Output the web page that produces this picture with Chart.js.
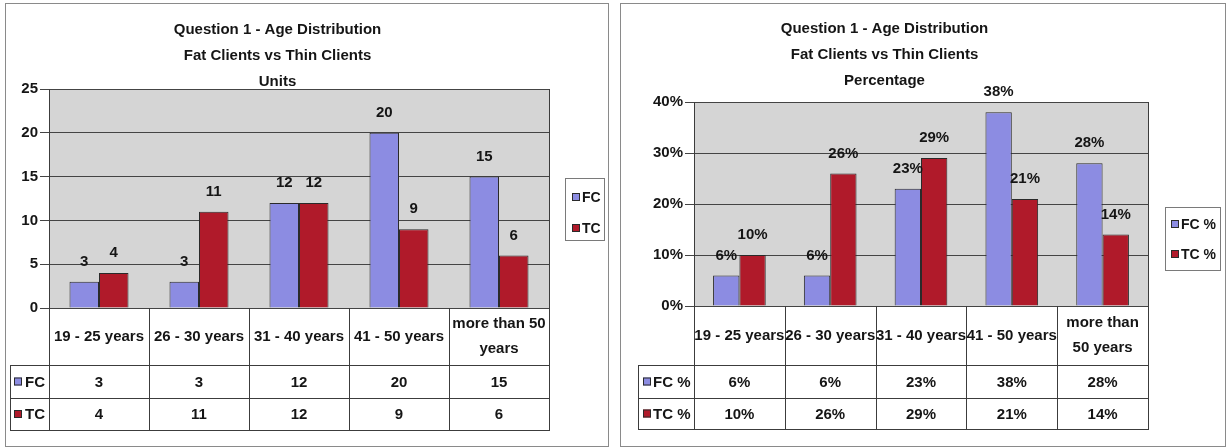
<!DOCTYPE html>
<html>
<head>
<meta charset="utf-8">
<script src="https://cdn.jsdelivr.net/npm/chart.js@4.4.1/dist/chart.umd.min.js"></script>
<style>
  html, body { margin: 0; padding: 0; background: #fff; width: 1228px; height: 448px; overflow: hidden; }
  .panel { position: absolute; box-sizing: border-box; border: 1px solid #8a8a8a; background: #fff; }
  .panel canvas { display: block; }
</style>
</head>
<body>
<div class="panel" style="left:5px;top:3px;width:604px;height:444px"><canvas id="units" width="602" height="442"></canvas></div>
<div class="panel" style="left:620px;top:3px;width:606px;height:444px"><canvas id="pct" width="604" height="442"></canvas></div>
<script>
// ---- data ----
const ageGroups = ['19 - 25 years', '26 - 30 years', '31 - 40 years', '41 - 50 years', 'more than 50 years'];
const unitHeaderLines = [['19 - 25 years'], ['26 - 30 years'], ['31 - 40 years'], ['41 - 50 years'], ['more than 50', 'years']];
const pctHeaderLines = [['19 - 25 years'], ['26 - 30 years'], ['31 - 40 years'], ['41 - 50 years'], ['more than', '50 years']];

const fcUnits = [3, 3, 12, 20, 15];
const tcUnits = [4, 11, 12, 9, 6];
const fcPercent = [6, 6, 23, 38, 28];
const tcPercent = [10, 26, 29, 21, 14];

const unitTicks = [0, 5, 10, 15, 20, 25];
const percentTicks = [0, 10, 20, 30, 40];

const unitTitle = ['Question 1 - Age Distribution', 'Fat Clients vs Thin Clients', 'Units'];
const pctTitle = ['Question 1 - Age Distribution', 'Fat Clients vs Thin Clients', 'Percentage'];

// ---- styling ----
const FONT = "'Liberation Sans', Arial, sans-serif";
const TXT = 15;
const INK = '#151515';
const FC_COLOR = '#8c8ce2';
const TC_COLOR = '#b01a2a';
const EDGE = '#2a2a2a';
const RULE = '#3c3c3c';
const PLOT_BG = '#d5d5d5';

Chart.defaults.font.family = FONT;
Chart.defaults.font.weight = 'bold';
Chart.defaults.font.size = TXT;
Chart.defaults.color = INK;

function px(v) { return Math.round(v) + 0.5; }

function line(ctx, x1, y1, x2, y2) {
  ctx.beginPath(); ctx.moveTo(x1, y1); ctx.lineTo(x2, y2); ctx.stroke();
}

function swatch(ctx, x, y, color) {
  ctx.fillStyle = color;
  ctx.fillRect(x, y - 4, 8, 8);
  ctx.strokeStyle = EDGE;
  ctx.lineWidth = 1;
  ctx.strokeRect(x + 0.5, y - 3.5, 7, 7);
}

// Excel-style frame: grey plot fill, right edge, value labels, legend box and data table
function makePanelPlugin(cfg) {
  return {
    id: 'panel',
    afterLayout(chart) {
      if (cfg.titleShift) {
        chart.titleBlock.top += cfg.titleShift;
        chart.titleBlock.bottom += cfg.titleShift;
      }
    },
    beforeDraw(chart) {
      const { ctx, chartArea: a } = chart;
      ctx.save();
      ctx.fillStyle = PLOT_BG;
      ctx.fillRect(a.left, a.top, a.right - a.left, a.bottom - a.top);
      ctx.restore();
    },
    beforeDatasetsDraw(chart) {
      const { ctx, chartArea: a } = chart;
      ctx.save();
      ctx.strokeStyle = RULE;
      ctx.lineWidth = 1;
      line(ctx, px(a.right), a.top, px(a.right), a.bottom);
      ctx.restore();
    },
    afterDatasetsDraw(chart) {
      const { ctx } = chart;
      ctx.save();
      ctx.font = `bold ${TXT}px ${FONT}`;
      ctx.fillStyle = INK;
      ctx.textAlign = 'center';
      ctx.textBaseline = 'middle';
      chart.data.datasets.forEach((ds, di) => {
        chart.getDatasetMeta(di).data.forEach((bar, i) => {
          ctx.fillText(ds.data[i] + cfg.suffix, bar.x, bar.y - 20);
        });
      });
      ctx.restore();
    },
    afterDraw(chart) {
      const { ctx, chartArea: a, scales: { x } } = chart;
      const n = chart.data.labels.length;
      const colW = (a.right - a.left) / n;
      const top = a.bottom;
      const hb = top + cfg.headerH;
      const r1 = hb + cfg.rowH[0];
      const r2 = r1 + cfg.rowH[1];
      const L = cfg.labelLeft;

      ctx.save();
      ctx.strokeStyle = RULE;
      ctx.lineWidth = 1;
      // table rules
      [hb, r1, r2].forEach(y => line(ctx, L, px(y), a.right + 1, px(y)));
      line(ctx, px(L), hb, px(L), r2);
      line(ctx, px(a.left), top, px(a.left), r2);
      for (let i = 0; i < n; i++) {
        const bx = x.getPixelForValue(i) + colW / 2;
        line(ctx, px(bx), top, px(bx), r2);
      }

      ctx.font = `bold ${TXT}px ${FONT}`;
      ctx.fillStyle = INK;
      ctx.textBaseline = 'middle';
      ctx.textAlign = 'center';
      // category header cells
      cfg.header.forEach((lines, i) => {
        const cx = x.getPixelForValue(i);
        const cy = (top + hb) / 2;
        lines.forEach((t, k) => {
          ctx.fillText(t, cx, cy + (k - (lines.length - 1) / 2) * 25);
        });
      });
      // series rows
      const rowMid = [(hb + r1) / 2, (r1 + r2) / 2];
      chart.data.datasets.forEach((ds, di) => {
        const cy = rowMid[di];
        ctx.textAlign = 'center';
        ctx.fillStyle = INK;
        ds.data.forEach((v, i) => ctx.fillText(v + cfg.suffix, x.getPixelForValue(i), cy + 1));
        swatch(ctx, L + cfg.swatchDx, cy, ds.backgroundColor);
        ctx.textAlign = 'left';
        ctx.fillStyle = INK;
        ctx.fillText(ds.label, L + cfg.textDx, cy + 1);
      });

      // legend box
      const lg = cfg.legend;
      const bx = a.right + lg.dx, by = a.top + lg.dy;
      ctx.strokeStyle = '#7a7a7a';
      ctx.strokeRect(px(bx), px(by), lg.w, lg.h);
      ctx.font = `bold 14px ${FONT}`;
      chart.data.datasets.forEach((ds, di) => {
        const cy = by + lg.rows[di];
        swatch(ctx, bx + lg.swatchDx, cy, ds.backgroundColor);
        ctx.textAlign = 'left';
        ctx.fillStyle = INK;
        ctx.fillText(ds.label, bx + lg.textDx, cy + 1);
      });
      ctx.restore();
    }
  };
}

function barChart(id, opts) {
  return new Chart(document.getElementById(id), {
    type: 'bar',
    data: {
      labels: ageGroups,
      datasets: [
        { label: opts.names[0], data: opts.fc, backgroundColor: FC_COLOR, borderColor: EDGE, borderWidth: 1 },
        { label: opts.names[1], data: opts.tc, backgroundColor: TC_COLOR, borderColor: EDGE, borderWidth: 1 }
      ]
    },
    options: {
      responsive: false,
      animation: false,
      devicePixelRatio: 1,
      layout: { padding: opts.padding },
      datasets: { bar: { categoryPercentage: opts.catPct, barPercentage: 1 } },
      plugins: {
        legend: { display: false },
        tooltip: { enabled: false },
        title: {
          display: true,
          text: opts.title,
          color: INK,
          font: { size: 15, weight: 'bold', lineHeight: '26px' },
          padding: opts.titlePad
        }
      },
      scales: {
        x: { display: false },
        y: {
          min: opts.ticks[0],
          max: opts.ticks[opts.ticks.length - 1],
          afterBuildTicks: s => { s.ticks = opts.ticks.map(v => ({ value: v })); },
          afterFit: s => { s.width = opts.axisWidth; },
          ticks: { padding: 2, color: INK, font: { size: TXT, weight: 'bold' }, callback: v => v + opts.suffix },
          grid: { color: '#444', lineWidth: 1, tickLength: 9, drawTicks: true },
          border: { display: true, color: RULE }
        }
      }
    },
    plugins: [makePanelPlugin(opts.panel)]
  });
}

barChart('units', {
  names: ['FC', 'TC'], fc: fcUnits, tc: tcUnits, ticks: unitTicks, suffix: '',
  title: unitTitle, titlePad: { top: 7, bottom: 0 },
  padding: { top: 0, left: 0, right: 59, bottom: 138 },
  axisWidth: 43, catPct: 0.59,
  panel: {
    suffix: '', titleShift: 6, header: unitHeaderLines,
    headerH: 57, rowH: [33, 32], labelLeft: 4, swatchDx: 4, textDx: 15,
    legend: { dx: 16, dy: 89, w: 39, h: 62, rows: [19, 50], swatchDx: 7, textDx: 17 }
  }
});

barChart('pct', {
  names: ['FC %', 'TC %'], fc: fcPercent, tc: tcPercent, ticks: percentTicks, suffix: '%',
  title: pctTitle, titlePad: { top: 12, bottom: 8 },
  padding: { top: 0, left: 0, right: 77, bottom: 140 },
  axisWidth: 73, catPct: 0.58,
  panel: {
    suffix: '%', titleShift: 0, header: pctHeaderLines,
    headerH: 59, rowH: [33, 31], labelLeft: 17, swatchDx: 5, textDx: 15,
    legend: { dx: 17, dy: 105, w: 55, h: 63, rows: [17, 47], swatchDx: 6, textDx: 16 }
  }
});
</script>
</body>
</html>
